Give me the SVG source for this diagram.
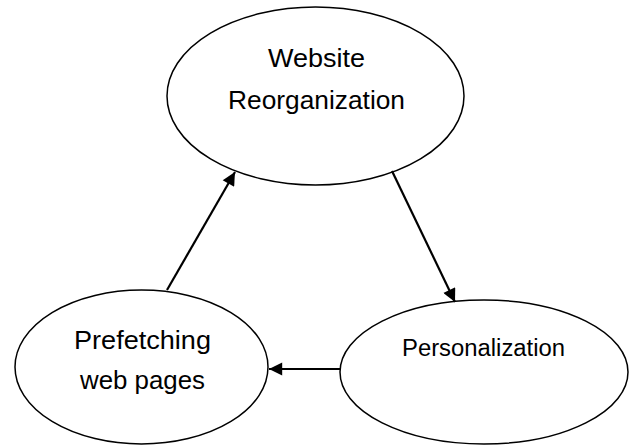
<svg xmlns="http://www.w3.org/2000/svg" width="633" height="445" viewBox="0 0 633 445">
  <defs>
    <marker id="arrow" viewBox="0 0 10 10" refX="10" refY="5" markerWidth="7" markerHeight="6" markerUnits="strokeWidth" orient="auto">
      <path d="M0,0 L10,5 L0,10 z" fill="#000"/>
    </marker>
    <style>
      .node ellipse { fill: #fff; stroke: #000; stroke-width: 1.5; }
      .node text { font-family: "Liberation Sans", Arial, sans-serif; fill: #000; text-anchor: middle; }
      .big { font-size: 26px; }
      .small { font-size: 23.5px; }
      .edges line { stroke: #000; stroke-width: 2.2; marker-end: url(#arrow); }
    </style>
  </defs>
  <rect width="633" height="445" fill="#fff"/>

  <g id="website-reorganization" class="node">
    <ellipse cx="315.5" cy="96" rx="148.5" ry="89"/>
    <text class="big" x="316.5" y="67" textLength="97" lengthAdjust="spacingAndGlyphs">Website</text>
    <text class="big" x="316.5" y="109" textLength="177" lengthAdjust="spacingAndGlyphs">Reorganization</text>
  </g>

  <g id="prefetching" class="node">
    <ellipse cx="141.5" cy="367" rx="126.5" ry="77"/>
    <text class="big" x="142.5" y="349" textLength="137" lengthAdjust="spacingAndGlyphs">Prefetching</text>
    <text class="big" x="142.5" y="389" textLength="125" lengthAdjust="spacingAndGlyphs">web pages</text>
  </g>

  <g id="personalization" class="node">
    <ellipse cx="484" cy="372" rx="144" ry="72"/>
    <text class="small" x="483.5" y="356" textLength="163" lengthAdjust="spacingAndGlyphs">Personalization</text>
  </g>

  <g id="connectors" class="edges">
    <line x1="392" y1="171" x2="455" y2="302"/>
    <line x1="340" y1="369" x2="269" y2="369"/>
    <line x1="167" y1="290" x2="235" y2="172"/>
  </g>
</svg>
